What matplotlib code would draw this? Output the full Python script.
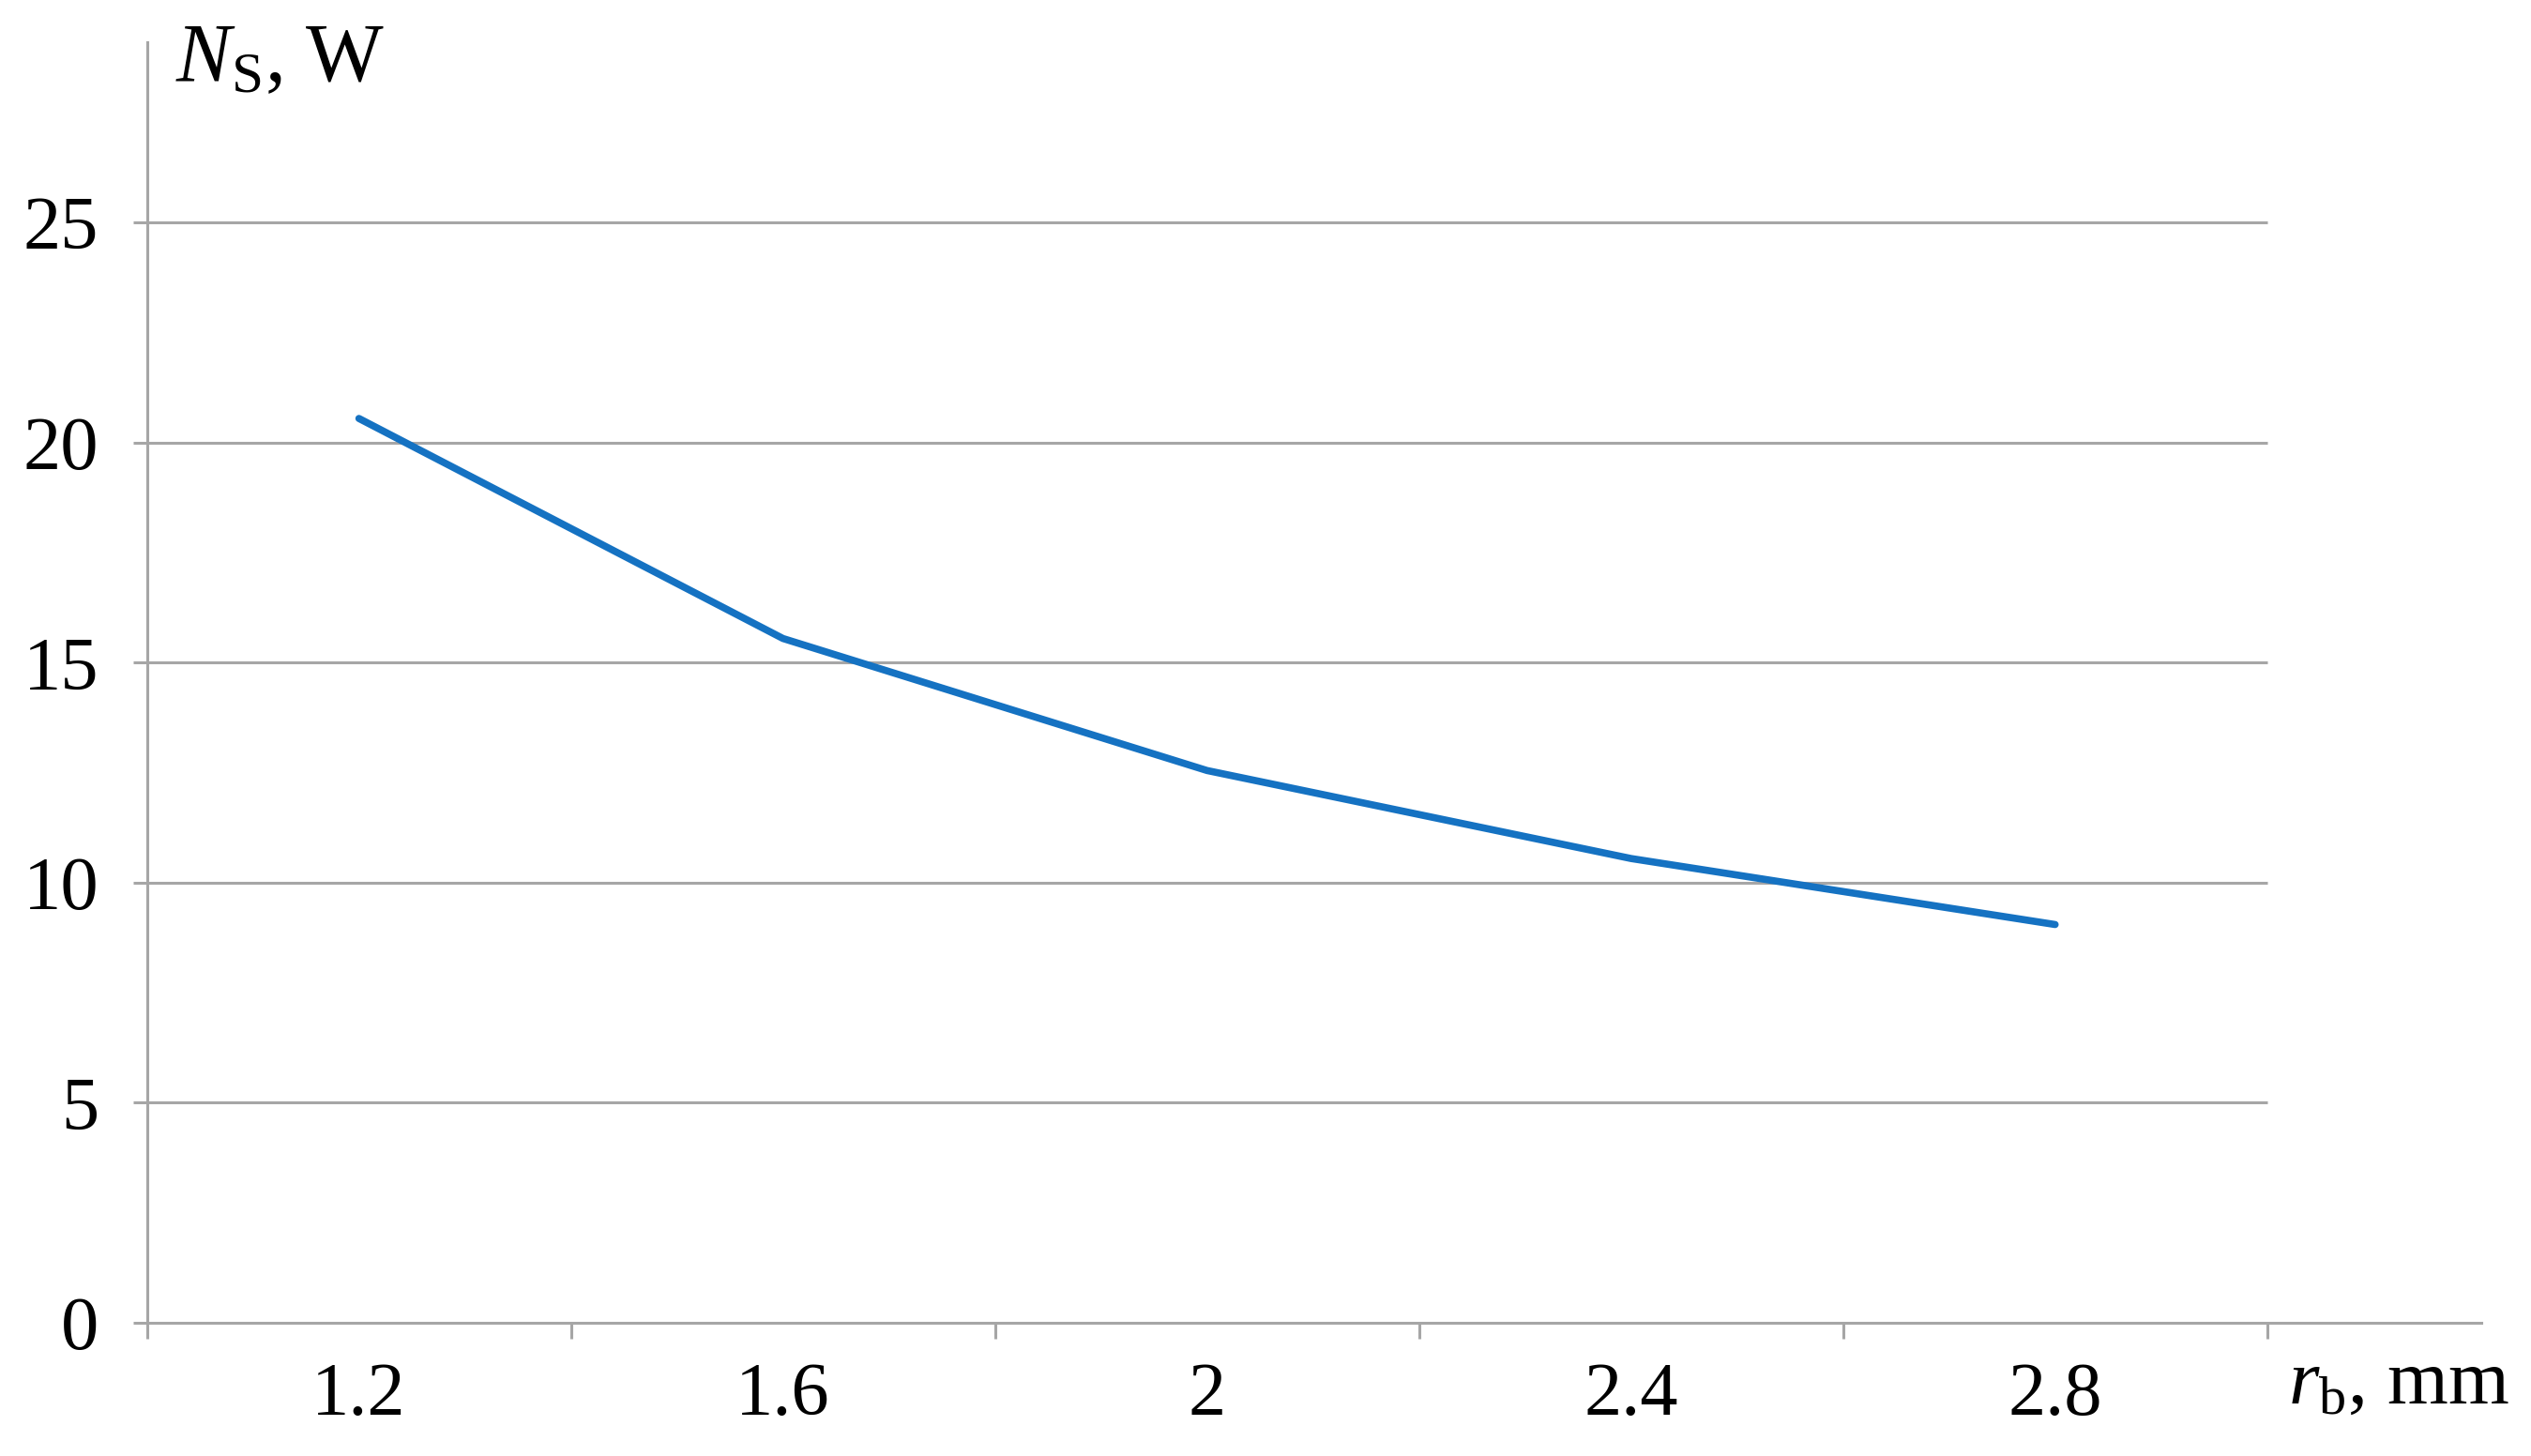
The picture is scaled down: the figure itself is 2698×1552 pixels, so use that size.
import numpy as np
import matplotlib
matplotlib.use("Agg")
from matplotlib import pyplot as plt

# data
radius_labels = ["1.2", "1.6", "2", "2.4", "2.8"]
power_w = [20.55, 15.55, 12.55, 10.55, 9.05]
y_ticks = [0, 5, 10, 15, 20, 25]

W, H, DPI = 2698, 1552, 100
grey = "#a6a6a6"
blue = "#1572c2"

plt.rcParams["font.family"] = ["Liberation Serif", "DejaVu Serif"]
plt.rcParams["mathtext.fontset"] = "custom"
plt.rcParams["mathtext.rm"] = "Liberation Serif"
plt.rcParams["mathtext.it"] = "Liberation Serif:italic"

fig = plt.figure(figsize=(W / DPI, H / DPI), dpi=DPI)
ax = fig.add_axes([156.6 / W, 1 - 1410 / H, (2645 - 156.6) / W, (1410 - 45) / H])

x = np.arange(len(radius_labels))
n = len(radius_labels)

# horizontal grid lines end at the plot edge, axis line goes on a bit further
ax.hlines(y_ticks[1:], -0.5, n - 0.5, color=grey, lw=2.2, zorder=1)
ax.plot(x, power_w, color=blue, lw=5.5, solid_capstyle="round", zorder=3)

ax.set_xlim(-0.5, n + 0.005)
ax.set_ylim(0, 29.1)

for s in ["top", "right"]:
    ax.spines[s].set_visible(False)
for s in ["left", "bottom"]:
    ax.spines[s].set_color(grey)
    ax.spines[s].set_linewidth(2.2)

ax.set_yticks(y_ticks)
ax.set_yticklabels([str(v) for v in y_ticks])
ax.tick_params(axis="y", length=11, width=2.2, color=grey, pad=26, labelsize=58)

ax.set_xticks(x)
ax.set_xticklabels(radius_labels)
ax.set_xticks(np.arange(n + 1) - 0.5, minor=True)
ax.tick_params(axis="x", which="major", length=0, pad=30, labelsize=58)
ax.tick_params(axis="x", which="minor", length=12, width=2.2, color=grey)

fig.text(187 / W, 1 - 86 / H, r"$N_{\mathrm{S}}$, W", fontsize=63, ha="left", va="baseline")
fig.text(2439 / W, 1 - 1496 / H, r"$r_{\mathrm{b}}$, mm", fontsize=60, ha="left", va="baseline")

fig.savefig("out.png", dpi=DPI, facecolor="white")
